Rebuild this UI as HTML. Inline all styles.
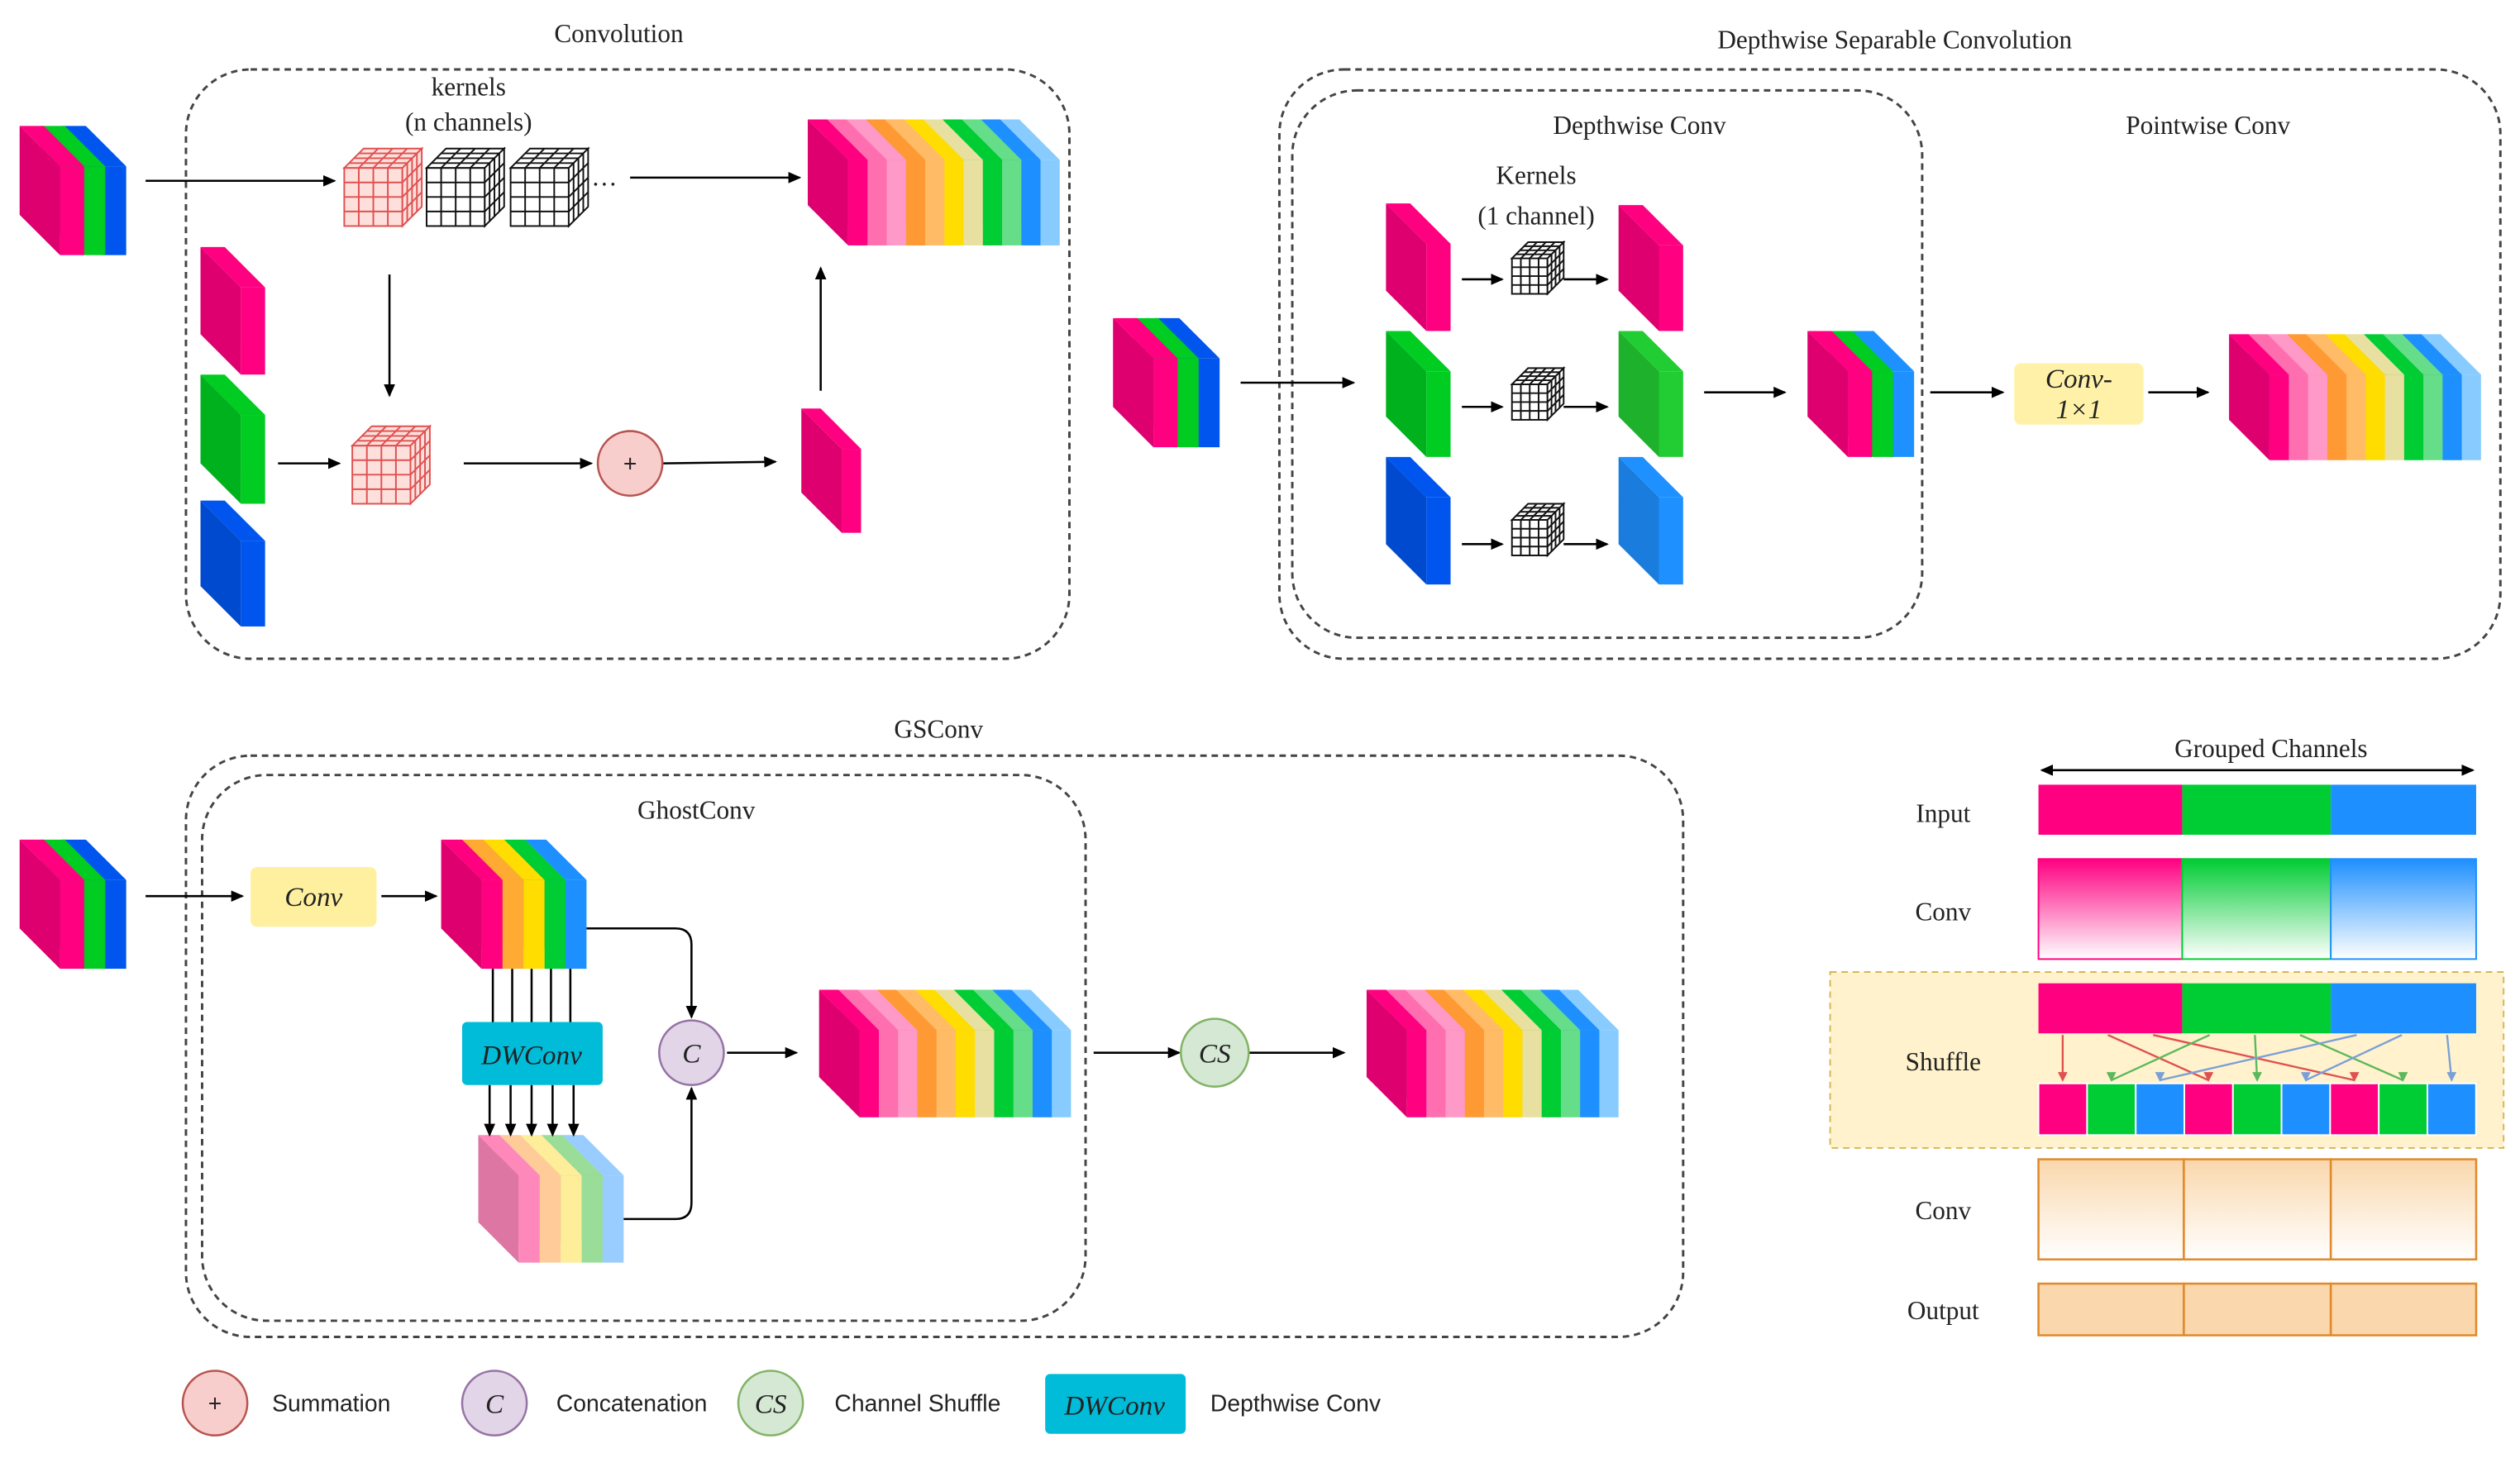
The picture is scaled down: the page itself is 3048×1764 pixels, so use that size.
<!DOCTYPE html>
<html><head><meta charset="utf-8"><style>
html,body{margin:0;padding:0;background:#fff}
svg{display:block}
.t{font-family:"Liberation Serif",serif;font-size:16px;fill:#222;text-anchor:middle}
.s{font-family:"Liberation Sans",sans-serif;font-size:14.5px;fill:#222;text-anchor:middle}
.i{font-family:"Liberation Serif",serif;font-style:italic;font-size:17px;fill:#222;text-anchor:middle}
</style></head><body>
<svg id="sv" width="3048" height="1764" viewBox="0 0 1560 903" xmlns="http://www.w3.org/2000/svg">
<defs>
<marker id="a" markerWidth="8" markerHeight="8" refX="7" refY="4" orient="auto" markerUnits="userSpaceOnUse"><path d="M0,0.5 L8,4 L0,7.5 z" fill="#000"/></marker>
<marker id="a2" markerWidth="8" markerHeight="8" refX="1" refY="4" orient="auto" markerUnits="userSpaceOnUse"><path d="M8,0.5 L0,4 L8,7.5 z" fill="#000"/></marker>
<linearGradient id="gp" x1="0" y1="0" x2="0" y2="1"><stop offset="0" stop-color="#ff0080"/><stop offset="1" stop-color="#fff"/></linearGradient>
<linearGradient id="gg" x1="0" y1="0" x2="0" y2="1"><stop offset="0" stop-color="#00cc33"/><stop offset="1" stop-color="#fff"/></linearGradient>
<linearGradient id="gb" x1="0" y1="0" x2="0" y2="1"><stop offset="0" stop-color="#1e8fff"/><stop offset="1" stop-color="#fff"/></linearGradient>
<linearGradient id="go" x1="0" y1="0" x2="0" y2="1"><stop offset="0" stop-color="#fad7ac"/><stop offset="1" stop-color="#fff"/></linearGradient>
</defs>
<g fill="none" stroke="#444" stroke-width="1.5" stroke-dasharray="4,3">
<rect x="115" y="43" width="547" height="365" rx="40"/>
<rect x="792" y="43" width="756" height="365" rx="40"/>
<rect x="800" y="56" width="390" height="339" rx="40"/>
<rect x="115" y="468" width="927" height="360" rx="40"/>
<rect x="125" y="480" width="547" height="338" rx="40"/>
</g>
<text class="t" x="383" y="26">Convolution</text>
<text class="t" x="290" y="59">kernels</text>
<text class="t" x="290" y="81">(n channels)</text>
<text class="t" x="374" y="115">…</text>
<text class="t" x="1173" y="30">Depthwise Separable Convolution</text>
<text class="t" x="1015" y="83">Depthwise Conv</text>
<text class="t" x="1367" y="83">Pointwise Conv</text>
<text class="t" x="951" y="114">Kernels</text>
<text class="t" x="951" y="139">(1 channel)</text>
<text class="t" x="581" y="457">GSConv</text>
<text class="t" x="431" y="507">GhostConv</text>
<g id="shapes"></g>
<g stroke="#000" stroke-width="1.3" fill="none">
<line x1="90" y1="112" x2="207" y2="112" marker-end="url(#a)"/>
<line x1="390" y1="110" x2="495" y2="110" marker-end="url(#a)"/>
<line x1="241" y1="170" x2="241" y2="245" marker-end="url(#a)"/>
<line x1="172" y1="287" x2="210" y2="287" marker-end="url(#a)"/>
<line x1="287" y1="287" x2="366" y2="287" marker-end="url(#a)"/>
<line x1="410" y1="287" x2="480" y2="286" marker-end="url(#a)"/>
<line x1="508" y1="242" x2="508" y2="166" marker-end="url(#a)"/>
<line x1="768" y1="237" x2="838" y2="237" marker-end="url(#a)"/>
<line x1="905" y1="173" x2="930" y2="173" marker-end="url(#a)"/>
<line x1="968" y1="173" x2="995" y2="173" marker-end="url(#a)"/>
<line x1="905" y1="252" x2="930" y2="252" marker-end="url(#a)"/>
<line x1="968" y1="252" x2="995" y2="252" marker-end="url(#a)"/>
<line x1="905" y1="337" x2="930" y2="337" marker-end="url(#a)"/>
<line x1="968" y1="337" x2="995" y2="337" marker-end="url(#a)"/>
<line x1="1055" y1="243" x2="1105" y2="243" marker-end="url(#a)"/>
<line x1="1195" y1="243" x2="1240" y2="243" marker-end="url(#a)"/>
<line x1="1330" y1="243" x2="1367" y2="243" marker-end="url(#a)"/>
<line x1="90" y1="555" x2="150" y2="555" marker-end="url(#a)"/>
<line x1="236" y1="555" x2="270" y2="555" marker-end="url(#a)"/>
<line x1="305" y1="600" x2="305" y2="633"/><line x1="317" y1="600" x2="317" y2="633"/><line x1="329" y1="600" x2="329" y2="633"/><line x1="341" y1="600" x2="341" y2="633"/><line x1="353" y1="600" x2="353" y2="633"/>
<line x1="303" y1="672" x2="303" y2="703" marker-end="url(#a)"/><line x1="316" y1="672" x2="316" y2="703" marker-end="url(#a)"/><line x1="329" y1="672" x2="329" y2="703" marker-end="url(#a)"/><line x1="342" y1="672" x2="342" y2="703" marker-end="url(#a)"/><line x1="355" y1="672" x2="355" y2="703" marker-end="url(#a)"/>
<path d="M363,575 H418 Q428,575 428,585 V630" marker-end="url(#a)"/>
<path d="M386,755 H418 Q428,755 428,745 V674" marker-end="url(#a)"/>
<line x1="450" y1="652" x2="493" y2="652" marker-end="url(#a)"/>
<line x1="677" y1="652" x2="730" y2="652" marker-end="url(#a)"/>
<line x1="773" y1="652" x2="832" y2="652" marker-end="url(#a)"/>
<line x1="1264" y1="477" x2="1531" y2="477" marker-end="url(#a)" marker-start="url(#a2)"/>
</g>
<circle cx="390" cy="287" r="20" fill="#f8cecc" stroke="#b85450" stroke-width="1.3"/><text class="s" x="390" y="292" font-size="12">+</text>
<rect x="1247" y="225" width="80" height="38" rx="4" fill="#fff2a8"/>
<text class="i" x="1287" y="240" font-size="15">Conv-</text><text class="i" x="1287" y="259" font-size="15">1×1</text>
<rect x="155" y="537" width="78" height="37" rx="4" fill="#fff0a0"/><text class="i" x="194" y="561">Conv</text>
<rect x="286" y="633" width="87" height="39" rx="3" fill="#00bcd8"/><text class="i" x="329" y="659">DWConv</text>
<circle cx="428" cy="652" r="20" fill="#e1d5e7" stroke="#9673a6" stroke-width="1.3"/><text class="i" x="428" y="658">C</text>
<circle cx="752" cy="652" r="21" fill="#d5e8d4" stroke="#82b366" stroke-width="1.3"/><text class="i" x="752" y="658">CS</text>
<!-- right panel -->
<rect x="1133" y="602" width="417" height="109" fill="#fff2cc" stroke="#d6b656" stroke-dasharray="4,3"/>
<text class="t" x="1406" y="469">Grouped Channels</text>
<text class="t" x="1203" y="509">Input</text><text class="t" x="1203" y="570">Conv</text><text class="t" x="1203" y="663">Shuffle</text><text class="t" x="1203" y="755">Conv</text><text class="t" x="1203" y="817">Output</text>
<rect x="1262" y="486" width="89" height="31" fill="#ff0080"/><rect x="1351" y="486" width="92" height="31" fill="#00cc33"/><rect x="1443" y="486" width="90" height="31" fill="#1e8fff"/>
<rect x="1262" y="532" width="89" height="62" fill="url(#gp)" stroke="#ff0080"/><rect x="1351" y="532" width="92" height="62" fill="url(#gg)" stroke="#00cc33"/><rect x="1443" y="532" width="90" height="62" fill="url(#gb)" stroke="#1e8fff"/>
<rect x="1262" y="609" width="89" height="31" fill="#ff0080"/><rect x="1351" y="609" width="92" height="31" fill="#00cc33"/><rect x="1443" y="609" width="90" height="31" fill="#1e8fff"/>
<g id="shuf"></g>
<rect x="1262" y="718" width="90" height="62" fill="url(#go)" stroke="#e08a2c" stroke-width="1.3"/><rect x="1352" y="718" width="91" height="62" fill="url(#go)" stroke="#e08a2c" stroke-width="1.3"/><rect x="1443" y="718" width="90" height="62" fill="url(#go)" stroke="#e08a2c" stroke-width="1.3"/>
<rect x="1262" y="795" width="90" height="32" fill="#fad7ac" stroke="#e08a2c" stroke-width="1.3"/><rect x="1352" y="795" width="91" height="32" fill="#fad7ac" stroke="#e08a2c" stroke-width="1.3"/><rect x="1443" y="795" width="90" height="32" fill="#fad7ac" stroke="#e08a2c" stroke-width="1.3"/>
<!-- legend -->
<circle cx="133" cy="869" r="20" fill="#f8cecc" stroke="#b85450" stroke-width="1.3"/><text class="s" x="133" y="874" font-size="12">+</text>
<text class="s" x="205" y="874">Summation</text>
<circle cx="306" cy="869" r="20" fill="#e1d5e7" stroke="#9673a6" stroke-width="1.3"/><text class="i" x="306" y="875">C</text>
<text class="s" x="391" y="874">Concatenation</text>
<circle cx="477" cy="869" r="20" fill="#d5e8d4" stroke="#82b366" stroke-width="1.3"/><text class="i" x="477" y="875">CS</text>
<text class="s" x="568" y="874">Channel Shuffle</text>
<rect x="647" y="851" width="87" height="37" rx="3" fill="#00bcd8"/><text class="i" x="690" y="876">DWConv</text>
<text class="s" x="802" y="874">Depthwise Conv</text>
</svg>
<script>
var NS="http://www.w3.org/2000/svg",G=document.getElementById("shapes");
function el(t,a,p){var e=document.createElementNS(NS,t);for(var k in a)e.setAttribute(k,a[k]);(p||G).appendChild(e);return e;}
function shade(c,f){var n=parseInt(c.slice(1),16),r=n>>16,g=(n>>8)&255,b=n&255;r=Math.round(r*f);g=Math.round(g*f);b=Math.round(b*f);return "rgb("+Math.min(255,r)+","+Math.min(255,g)+","+Math.min(255,b)+")";}
function block(x,y,W,H,cols,fw,D){var n=cols.length;D=D||25;fw=fw||15;var s=n>1?(W-fw-D)/(n-1):0;
for(var i=n-1;i>=0;i--){var xi=x+i*s,c=cols[i];
el("polygon",{points:xi+","+y+" "+(xi+D)+","+(y+D)+" "+(xi+D)+","+(y+H)+" "+xi+","+(y+H-D),fill:shade(c,0.87)});
el("polygon",{points:xi+","+y+" "+(xi+fw)+","+y+" "+(xi+fw+D)+","+(y+D)+" "+(xi+D)+","+(y+D),fill:c});
el("rect",{x:xi+D,y:y+D,width:fw,height:H-D,fill:c});}}
function cube(x,y,s,d,col,bg){var n=4,st=col;
el("rect",{x:x,y:y+d,width:s,height:s,fill:bg,stroke:st,"stroke-width":1});
el("polygon",{points:x+","+(y+d)+" "+(x+d)+","+y+" "+(x+d+s)+","+y+" "+(x+s)+","+(y+d),fill:bg,stroke:st});
el("polygon",{points:(x+s)+","+(y+d)+" "+(x+s+d)+","+y+" "+(x+s+d)+","+(y+s)+" "+(x+s)+","+(y+d+s),fill:bg,stroke:st});
for(var i=1;i<n;i++){var k=s*i/n,q=d*i/n;
el("line",{x1:x+k,y1:y+d,x2:x+k,y2:y+d+s,stroke:st});el("line",{x1:x,y1:y+d+k,x2:x+s,y2:y+d+k,stroke:st});
el("line",{x1:x+k,y1:y+d,x2:x+k+d,y2:y,stroke:st});el("line",{x1:x+q,y1:y+d-q,x2:x+q+s,y2:y+d-q,stroke:st});
el("line",{x1:x+s+q,y1:y+d-q,x2:x+s+q,y2:y+d-q+s,stroke:st});el("line",{x1:x+s,y1:y+d+k,x2:x+s+d,y2:y+k,stroke:st});}}
var P="#ff0080",Gr="#00cc22",B="#0055ee",B2="#1e90ff";
var RB=["#ff0080","#ff6fb0","#ff99c8","#ff9933","#ffbb66","#ffdd00","#e8e0a0","#00cc33","#66dd88","#1e8fff","#88ccff"];
block(12,78,66,80,[P,Gr,B]);block(689,197,66,80,[P,Gr,B]);block(1119,205,66,78,[P,Gr,B2]);block(12,520,66,80,[P,Gr,B]);
block(500,74,156,78,RB,12);block(1380,207,156,78,RB,12);block(507,613,156,79,RB,12);block(846,613,156,79,RB,12);
block(273,520,90,80,["#ff0080","#ffaa33","#ffdd00","#00cc33","#1e8fff"],13);
block(296,703,90,79,["#ff88bb","#ffcc99","#ffee99","#99dd99","#99ccff"],13);
block(124,153,40,79,[P]);block(124,232,40,80,[Gr]);block(124,310,40,78,[B]);block(496,253,37,77,[P],12);
block(858,126,40,79,[P]);block(858,205,40,78,[Gr]);block(858,283,40,79,[B]);
block(1002,127,40,78,[P]);block(1002,205,40,78,["#22cc33"]);block(1002,283,40,79,[B2]);
cube(213,92,36,12,"#e05050","#fde0dc");cube(264,92,36,12,"#111","#fff");cube(316,92,36,12,"#111","#fff");cube(218,264,36,12,"#e05050","#fde0dc");
cube(936,150,22,10,"#111","#fff");cube(936,228,22,10,"#111","#fff");cube(936,312,22,10,"#111","#fff");
var S=document.getElementById("shuf"),cc=["#ff0080","#00cc33","#1e8fff"];
for(var i=0;i<9;i++){el("rect",{x:1262+i*30.1,y:671,width:30.1,height:32,fill:cc[i%3],stroke:"#fff","stroke-width":1},S);}
var lc=["#e05050","#5cb85c","#7a9fd8"];
for(var g=0;g<3;g++)for(var j=0;j<3;j++){var sx=1277+g*91+j*28,ti=j*3+g,tx=1277+ti*30.1;
el("line",{x1:sx,y1:641,x2:tx,y2:669,stroke:lc[g],"stroke-width":1.2},S);el("polygon",{points:(tx-3)+",664 "+(tx+3)+",664 "+tx+",670",fill:lc[g]},S);}
</script>
</body></html>
